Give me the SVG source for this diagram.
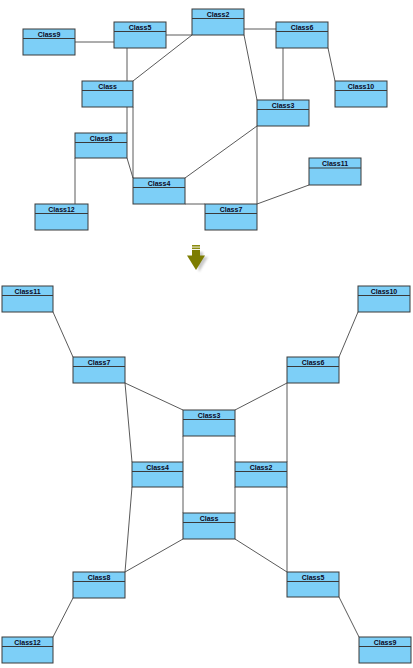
<svg xmlns="http://www.w3.org/2000/svg" width="413" height="668" viewBox="0 0 413 668">
<style>
.box{fill:#7dcff7;stroke:#3a3a3a;stroke-width:1}
.hd{stroke:#3a3a3a;stroke-width:1}
.lbl{font-family:"Liberation Sans",Arial,sans-serif;font-size:7px;font-weight:bold;fill:#0a0a1e;text-anchor:middle}
.c line{stroke:#5a5a5a;stroke-width:1}
</style>
<defs>
<filter id="blur" x="-50%" y="-50%" width="200%" height="200%"><feGaussianBlur stdDeviation="1.2"/></filter>
</defs>
<rect width="413" height="668" fill="#ffffff"/>
<g id="connectors" class="c">
<!-- top layout -->
<line x1="75" y1="42" x2="114" y2="42"/>
<line x1="166" y1="35" x2="192" y2="35"/>
<line x1="192" y1="35" x2="133" y2="81"/>
<line x1="127" y1="48" x2="127" y2="81"/>
<line x1="127" y1="107" x2="127" y2="133"/>
<line x1="133" y1="107" x2="133" y2="178"/>
<line x1="127" y1="158" x2="133" y2="178"/>
<line x1="75" y1="158" x2="75" y2="204"/>
<line x1="185" y1="178" x2="257" y2="126"/>
<line x1="185" y1="204" x2="205" y2="204"/>
<line x1="244" y1="29" x2="276" y2="29"/>
<line x1="244" y1="35" x2="257" y2="100"/>
<line x1="283" y1="48" x2="283" y2="100"/>
<line x1="328" y1="48" x2="335" y2="81"/>
<line x1="257" y1="126" x2="257" y2="204"/>
<line x1="257" y1="204" x2="309" y2="185"/>
<!-- bottom layout -->
<line x1="53" y1="312" x2="73" y2="357"/>
<line x1="358" y1="312" x2="339" y2="357"/>
<line x1="125" y1="383" x2="183" y2="410"/>
<line x1="125" y1="383" x2="132" y2="462"/>
<line x1="287" y1="383" x2="235" y2="410"/>
<line x1="287" y1="383" x2="287" y2="462"/>
<line x1="183" y1="436" x2="183" y2="462"/>
<line x1="183" y1="487" x2="183" y2="513"/>
<line x1="235" y1="436" x2="235" y2="462"/>
<line x1="235" y1="487" x2="235" y2="513"/>
<line x1="125" y1="572" x2="132" y2="487"/>
<line x1="125" y1="572" x2="183" y2="539"/>
<line x1="73" y1="598" x2="53" y2="637"/>
<line x1="287" y1="572" x2="235" y2="539"/>
<line x1="287" y1="487" x2="287" y2="572"/>
<line x1="339" y1="597" x2="359" y2="637"/>
</g>
<!-- top layout nodes -->
<g id="t-class9"><rect class="box" x="23" y="29" width="52" height="26"/><line class="hd" x1="23" y1="38.5" x2="75" y2="38.5"/><text class="lbl" x="49" y="36.5">Class9</text></g>
<g id="t-class5"><rect class="box" x="114" y="22" width="52" height="26"/><line class="hd" x1="114" y1="31.5" x2="166" y2="31.5"/><text class="lbl" x="140" y="29.5">Class5</text></g>
<g id="t-class2"><rect class="box" x="192" y="9" width="52" height="26"/><line class="hd" x1="192" y1="18.5" x2="244" y2="18.5"/><text class="lbl" x="218" y="16.5">Class2</text></g>
<g id="t-class6"><rect class="box" x="276" y="22" width="52" height="26"/><line class="hd" x1="276" y1="31.5" x2="328" y2="31.5"/><text class="lbl" x="302" y="29.5">Class6</text></g>
<g id="t-class"><rect class="box" x="82" y="81" width="51" height="26"/><line class="hd" x1="82" y1="90.5" x2="133" y2="90.5"/><text class="lbl" x="107.5" y="88.5">Class</text></g>
<g id="t-class10"><rect class="box" x="335" y="81" width="52" height="26"/><line class="hd" x1="335" y1="90.5" x2="387" y2="90.5"/><text class="lbl" x="361" y="88.5">Class10</text></g>
<g id="t-class3"><rect class="box" x="257" y="100" width="52" height="26"/><line class="hd" x1="257" y1="109.5" x2="309" y2="109.5"/><text class="lbl" x="283" y="107.5">Class3</text></g>
<g id="t-class8"><rect class="box" x="75" y="133" width="52" height="25"/><line class="hd" x1="75" y1="142.5" x2="127" y2="142.5"/><text class="lbl" x="101" y="140.5">Class8</text></g>
<g id="t-class11"><rect class="box" x="309" y="158" width="52" height="27"/><line class="hd" x1="309" y1="168" x2="361" y2="168"/><text class="lbl" x="335" y="165.5">Class11</text></g>
<g id="t-class4"><rect class="box" x="133" y="178" width="52" height="26"/><line class="hd" x1="133" y1="187.5" x2="185" y2="187.5"/><text class="lbl" x="159" y="185.5">Class4</text></g>
<g id="t-class12"><rect class="box" x="35" y="204" width="53" height="26"/><line class="hd" x1="35" y1="213.5" x2="88" y2="213.5"/><text class="lbl" x="61.5" y="211.5">Class12</text></g>
<g id="t-class7"><rect class="box" x="205" y="204" width="52" height="26"/><line class="hd" x1="205" y1="213.5" x2="257" y2="213.5"/><text class="lbl" x="231" y="211.5">Class7</text></g>
<!-- arrow -->
<g id="arrow">
<polygon points="195,252 203,252 203,257 208,257 199,272" fill="#888" opacity="0.45" filter="url(#blur)"/>
<rect x="192" y="245" width="8" height="1.6" fill="#8b8b10"/>
<rect x="192" y="247.5" width="8" height="1.6" fill="#8b8b10"/>
<rect x="192" y="250" width="8" height="6" fill="#7d7d00"/>
<polygon points="187,255.5 205,255.5 196,270" fill="#7d7d00"/>
</g>
<!-- bottom layout nodes -->
<g id="b-class11"><rect class="box" x="2" y="286" width="51" height="26"/><line class="hd" x1="2" y1="295.5" x2="53" y2="295.5"/><text class="lbl" x="27.5" y="293.5">Class11</text></g>
<g id="b-class10"><rect class="box" x="358" y="286" width="52" height="26"/><line class="hd" x1="358" y1="295.5" x2="410" y2="295.5"/><text class="lbl" x="384" y="293.5">Class10</text></g>
<g id="b-class7"><rect class="box" x="73" y="357" width="52" height="26"/><line class="hd" x1="73" y1="366.5" x2="125" y2="366.5"/><text class="lbl" x="99" y="364.5">Class7</text></g>
<g id="b-class6"><rect class="box" x="287" y="357" width="52" height="26"/><line class="hd" x1="287" y1="366.5" x2="339" y2="366.5"/><text class="lbl" x="313" y="364.5">Class6</text></g>
<g id="b-class3"><rect class="box" x="183" y="410" width="52" height="26"/><line class="hd" x1="183" y1="419.5" x2="235" y2="419.5"/><text class="lbl" x="209" y="417.5">Class3</text></g>
<g id="b-class4"><rect class="box" x="132" y="462" width="51" height="25"/><line class="hd" x1="132" y1="471.5" x2="183" y2="471.5"/><text class="lbl" x="157.5" y="469.5">Class4</text></g>
<g id="b-class2"><rect class="box" x="235" y="462" width="52" height="25"/><line class="hd" x1="235" y1="471.5" x2="287" y2="471.5"/><text class="lbl" x="261" y="469.5">Class2</text></g>
<g id="b-class"><rect class="box" x="183" y="513" width="52" height="26"/><line class="hd" x1="183" y1="522.5" x2="235" y2="522.5"/><text class="lbl" x="209" y="520.5">Class</text></g>
<g id="b-class8"><rect class="box" x="73" y="572" width="52" height="26"/><line class="hd" x1="73" y1="581.5" x2="125" y2="581.5"/><text class="lbl" x="99" y="579.5">Class8</text></g>
<g id="b-class5"><rect class="box" x="287" y="572" width="52" height="25"/><line class="hd" x1="287" y1="581.5" x2="339" y2="581.5"/><text class="lbl" x="313" y="579.5">Class5</text></g>
<g id="b-class12"><rect class="box" x="2" y="637" width="51" height="26"/><line class="hd" x1="2" y1="646.5" x2="53" y2="646.5"/><text class="lbl" x="27.5" y="644.5">Class12</text></g>
<g id="b-class9"><rect class="box" x="359" y="637" width="52" height="26"/><line class="hd" x1="359" y1="646.5" x2="411" y2="646.5"/><text class="lbl" x="385" y="644.5">Class9</text></g>
</svg>
